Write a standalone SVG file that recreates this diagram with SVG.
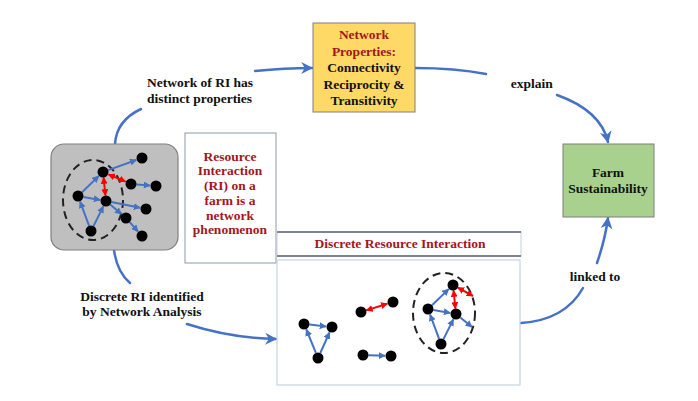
<svg xmlns="http://www.w3.org/2000/svg" width="698" height="401" viewBox="0 0 698 401">
<defs>
<style>
.t{font-family:"Liberation Serif","Times New Roman",serif;font-weight:bold;font-size:13.5px;fill:#111}
.r{fill:#A3161E}
.c{text-anchor:middle}
.conn{fill:none;stroke:#4472C4;stroke-width:2.5;stroke-linecap:round}
.ba{stroke:#4472C4;stroke-width:2}
.ra{stroke:#FF0000;stroke-width:2}
.nd{fill:#000}
.dash{fill:none;stroke:#222;stroke-width:2;stroke-dasharray:8 5}
</style>
<marker id="big" viewBox="0 0 10 10" refX="9" refY="5" markerWidth="12" markerHeight="12" markerUnits="userSpaceOnUse" orient="auto">
<path d="M0,0 L10,5 L0,10 L3,5 z" fill="#4472C4"/>
</marker>
<marker id="bs" viewBox="0 0 10 10" refX="9" refY="5" markerWidth="7" markerHeight="7" markerUnits="userSpaceOnUse" orient="auto">
<path d="M0,0 L10,5 L0,10 z" fill="#4472C4"/>
</marker>
<marker id="rs" viewBox="0 0 10 10" refX="9" refY="5" markerWidth="7" markerHeight="7" markerUnits="userSpaceOnUse" orient="auto-start-reverse">
<path d="M0,0 L10,5 L0,10 z" fill="#FF0000"/>
</marker>
</defs>
<rect width="698" height="401" fill="#fff"/>

<g id="connectors">
<path class="conn" d="M115,144 C116,128 126,116 141,109"/>
<path class="conn" d="M255,71 Q285,68 312,68" marker-end="url(#big)"/>
<path class="conn" d="M415,68 Q455,68 486,74"/>
<path class="conn" d="M557,95 C585,105 603,120 608,142" marker-end="url(#big)"/>
<path class="conn" d="M114,250 Q117,272 130,283"/>
<path class="conn" d="M187,324 Q230,338 276,339" marker-end="url(#big)"/>
<path class="conn" d="M521,323 Q565,320 583,288"/>
<path class="conn" d="M597,263 Q605,240 608,218" marker-end="url(#big)"/>
</g>

<g id="network-box">
<rect x="51" y="144" width="127" height="106" rx="13" fill="#BFBFBF" stroke="#808080" stroke-width="1.2"/>
<ellipse class="dash" cx="93" cy="200" rx="30" ry="40"/>
<g class="ba" marker-end="url(#bs)">
<line x1="108.2" y1="170.1" x2="136.3" y2="160"/>
<line x1="136.5" y1="184.4" x2="150" y2="185.5"/>
<line x1="82" y1="192.2" x2="98.7" y2="176.1"/>
<line x1="83.4" y1="197" x2="100.1" y2="199.9"/>
<line x1="89.1" y1="225.8" x2="80.1" y2="201.6"/>
<line x1="93.5" y1="226.1" x2="103.3" y2="206.4"/>
<line x1="111.4" y1="202.1" x2="140.1" y2="207.8"/>
<line x1="110.2" y1="204.6" x2="121.4" y2="214.1"/>
<line x1="129.7" y1="222.1" x2="138" y2="231.5"/>
</g>
<g class="ra" marker-start="url(#rs)" marker-end="url(#rs)">
<line x1="108.5" y1="174.4" x2="125.5" y2="181.6"/>
<line x1="103.6" y1="177.5" x2="105.4" y2="195.5"/>
</g>
<g class="nd">
<circle cx="103" cy="172" r="5.5"/>
<circle cx="142" cy="158" r="5.5"/>
<circle cx="131" cy="184" r="5.5"/>
<circle cx="156" cy="186" r="5.5"/>
<circle cx="78" cy="196" r="5.5"/>
<circle cx="106" cy="201" r="5.5"/>
<circle cx="146" cy="209" r="5.5"/>
<circle cx="126" cy="218" r="5.5"/>
<circle cx="91" cy="231" r="5.5"/>
<circle cx="142" cy="236" r="5.5"/>
</g>
</g>

<g id="ri-phenomenon">
<rect x="185" y="133" width="91" height="130" fill="#fff" stroke="#8A9AAA" stroke-width="1"/>
<text class="t r c" x="230" y="160.7">Resource</text>
<text class="t r c" x="230" y="175.4">Interaction</text>
<text class="t r c" x="230" y="190.1">(RI) on a</text>
<text class="t r c" x="230" y="204.8">farm is a</text>
<text class="t r c" x="230" y="219.5">network</text>
<text class="t r c" x="230" y="234.2">phenomenon</text>
</g>

<g id="network-properties">
<rect x="313" y="23" width="102" height="89" fill="#FFD966" stroke="#7F7F7F" stroke-width="1"/>
<text class="t r c" x="364" y="39.3">Network</text>
<text class="t r c" x="364" y="55.7">Properties:</text>
<text class="t c" x="364" y="72.3">Connectivity</text>
<text class="t c" x="364" y="88.7">Reciprocity &amp;</text>
<text class="t c" x="364" y="104.7">Transitivity</text>
</g>

<g id="farm-sustainability">
<rect x="563" y="144" width="91" height="73" fill="#A9D18E" stroke="#7F7F7F" stroke-width="1"/>
<text class="t c" x="608" y="177.3">Farm</text>
<text class="t c" x="608" y="193.3">Sustainability</text>
</g>

<g id="discrete-ri">
<rect x="277" y="232" width="244" height="24" fill="#fff" stroke="#C5D0DA" stroke-width="1"/>
<line x1="277" y1="232" x2="521" y2="232" stroke="#5A6470" stroke-width="1.3"/>
<line x1="277" y1="256" x2="521" y2="256" stroke="#5A6470" stroke-width="1.3"/>
<text class="t r c" x="400" y="248.3">Discrete Resource Interaction</text>
<rect x="277" y="260" width="243" height="125" fill="#fff" stroke="#C5D3E0" stroke-width="1.2"/>
<ellipse class="dash" cx="444" cy="313" rx="31" ry="40"/>
<g class="ba" marker-end="url(#bs)">
<line x1="309.5" y1="324.6" x2="326" y2="326.4"/>
<line x1="315.9" y1="352.9" x2="306.3" y2="329.5"/>
<line x1="320.3" y1="353" x2="329.5" y2="332.5"/>
<line x1="368.5" y1="355.2" x2="385" y2="355.8"/>
<line x1="432" y1="305.2" x2="448.7" y2="289.1"/>
<line x1="433.4" y1="310" x2="450.1" y2="312.9"/>
<line x1="439.1" y1="338.8" x2="430.1" y2="314.6"/>
<line x1="443.5" y1="339.1" x2="453.3" y2="319.4"/>
<line x1="460.3" y1="317.5" x2="472" y2="327"/>
</g>
<g class="ra" marker-start="url(#rs)" marker-end="url(#rs)">
<line x1="366.3" y1="310.4" x2="387.3" y2="303.8"/>
<line x1="453.6" y1="290.5" x2="455.4" y2="308.5"/>
<line x1="457.8" y1="287.6" x2="473" y2="296"/>
</g>
<g class="nd">
<circle cx="304" cy="324" r="5.5"/>
<circle cx="332" cy="327" r="5.5"/>
<circle cx="318" cy="358" r="5.5"/>
<circle cx="361" cy="312" r="5.5"/>
<circle cx="393" cy="302" r="5.5"/>
<circle cx="363" cy="355" r="5.5"/>
<circle cx="391" cy="356" r="5.5"/>
<circle cx="453" cy="285" r="5.5"/>
<circle cx="428" cy="309" r="5.5"/>
<circle cx="456" cy="314" r="5.5"/>
<circle cx="441" cy="344" r="5.5"/>
</g>
</g>

<g id="labels">
<text class="t" x="147" y="87.3">Network of RI has</text>
<text class="t" x="147" y="103.3">distinct properties</text>
<text class="t c" x="531.7" y="88.3">explain</text>
<text class="t c" x="142" y="300.7">Discrete RI identified</text>
<text class="t c" x="142" y="316">by Network Analysis</text>
<text class="t c" x="595" y="280.7">linked to</text>
</g>
</svg>
